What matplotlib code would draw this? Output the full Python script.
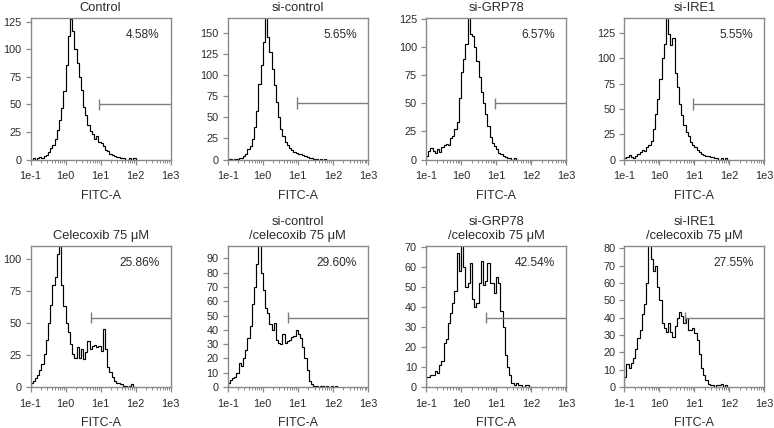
import numpy as np
import matplotlib
matplotlib.use('Agg')
import matplotlib.pyplot as plt
from matplotlib.ticker import LogLocator, FixedLocator, FixedFormatter, NullFormatter

plt.rcParams['font.family'] = ['Liberation Sans', 'DejaVu Sans']

# ---------------- data ----------------
bins_per_decade = 16
log_start = -1

titles = ["Control", "si-control", "si-GRP78", "si-IRE1",
          "Celecoxib 75 \u03bcM", "si-control\n/celecoxib 75 \u03bcM",
          "si-GRP78\n/celecoxib 75 \u03bcM", "si-IRE1\n/celecoxib 75 \u03bcM"]
percents = ["4.58%", "5.65%", "6.57%", "5.55%", "25.86%", "29.60%", "42.54%", "27.55%"]

counts_control = [0, 1, 0, 1, 2, 1, 3, 4, 7, 10, 13, 19, 27, 36, 47, 62, 86, 112, 128, 117,
                  100, 88, 75, 63, 48, 40, 31, 26, 23, 19, 21, 16, 15, 12, 9, 8, 5, 4, 3, 2,
                  2, 1, 1, 0, 0, 1, 0, 1, 0]
counts_sicontrol = [1, 1, 0, 1, 1, 2, 2, 4, 7, 12, 16, 24, 38, 58, 90, 112, 140, 170, 145, 128,
                    108, 88, 68, 50, 36, 28, 21, 17, 14, 11, 9, 8, 7, 6, 5, 4, 3, 2, 2, 1,
                    1, 0, 1, 0, 1, 0]
counts_sigrp78 = [3, 8, 10, 8, 6, 9, 7, 11, 13, 14, 13, 19, 21, 27, 33, 55, 78, 90, 103, 127,
                  112, 110, 100, 88, 74, 60, 50, 41, 30, 20, 15, 12, 9, 6, 5, 3, 2, 1, 1, 0,
                  1, 0]
counts_siire1 = [1, 2, 4, 2, 1, 3, 5, 7, 9, 8, 12, 14, 18, 30, 45, 60, 80, 100, 114, 141,
                 124, 113, 120, 86, 72, 55, 44, 34, 27, 23, 17, 14, 12, 9, 7, 5, 4, 3, 3, 2,
                 2, 1, 1, 0, 1, 0, 1, 0]
counts_celecoxib = [3, 5, 7, 9, 13, 18, 26, 37, 50, 64, 80, 86, 104, 111, 80, 63, 50, 43, 34, 26,
                    23, 31, 23, 30, 22, 27, 36, 30, 32, 33, 31, 32, 28, 45, 30, 16, 12, 8, 5, 3,
                    3, 2, 1, 1, 0, 1, 2, 0]
counts_sicontrol_cel = [3, 5, 6, 7, 10, 17, 15, 20, 26, 34, 43, 58, 70, 86, 99, 80, 68, 55, 52, 44,
                        40, 45, 33, 31, 30, 37, 31, 32, 33, 35, 36, 40, 37, 34, 28, 20, 12, 4, 2, 1,
                        1, 0, 1, 1, 0, 1, 0, 1, 0, 1, 0]
counts_sigrp78_cel = [5, 5, 6, 6, 8, 7, 11, 13, 22, 24, 32, 37, 42, 48, 67, 58, 71, 60, 50, 52,
                      62, 44, 40, 42, 52, 63, 51, 53, 62, 52, 52, 47, 55, 52, 38, 30, 16, 10, 6, 2,
                      1, 2, 1, 1, 0, 1, 1, 0]
counts_siire1_cel = [6, 13, 11, 14, 17, 22, 28, 33, 42, 48, 60, 82, 74, 67, 70, 58, 50, 37, 34, 32,
                     37, 32, 29, 35, 40, 43, 41, 37, 40, 33, 33, 34, 31, 27, 19, 11, 7, 4, 2, 1,
                     1, 0, 1, 1, 2, 0, 1, 0]

all_counts = [counts_control, counts_sicontrol, counts_sigrp78, counts_siire1,
              counts_celecoxib, counts_sicontrol_cel, counts_sigrp78_cel, counts_siire1_cel]

y_max = [128.5, 168, 126.2, 140, 110, 98.4, 70.5, 81.2]
y_tick_step = [25, 25, 25, 25, 25, 10, 10, 10]
y_tick_top = [125, 150, 125, 125, 100, 90, 70, 80]

gate_start = [9.1, 9.2, 9.2, 9.4, 5.3, 5.4, 5.2, 5.5]
gate_level = [50, 67, 50, 55, 54.3, 48.6, 34.7, 40]

x_tick_values = [0.1, 1, 10, 100, 1000]
x_tick_labels = ["1e-1", "1e0", "1e1", "1e2", "1e3"]

# ---------------- layout ----------------
W, H = 774, 428
fig = plt.figure(figsize=(W / 100, H / 100), dpi=100)

lefts_px = [30.5, 227.7, 426.0, 624.3]
width_px = 140.2
rows_px = [(18.0, 159.5), (246.3, 387.0)]

spine_col = '#8a8a8a'
text_col = '#2a2a2a'

for k in range(8):
    r, c = divmod(k, 4)
    top, bot = rows_px[r]
    ax = fig.add_axes([lefts_px[c] / W, 1 - bot / H, width_px / W, (bot - top) / H])
    counts = np.asarray(all_counts[k], dtype=float)
    edges = 10 ** (log_start + np.arange(len(counts) + 1) / bins_per_decade)
    ax.stairs(counts, edges, color='black', lw=0.85, baseline=0)

    ax.set_xscale('log')
    ax.set_xlim(0.1, 1000)
    ax.set_ylim(0, y_max[k])

    ax.xaxis.set_major_locator(FixedLocator(x_tick_values))
    ax.xaxis.set_major_formatter(FixedFormatter(x_tick_labels))
    ax.xaxis.set_minor_locator(LogLocator(base=10, subs=np.arange(2, 10), numticks=20))
    ax.xaxis.set_minor_formatter(NullFormatter())
    ax.set_yticks(np.arange(0, y_tick_top[k] + 1, y_tick_step[k]))

    for s in ax.spines.values():
        s.set_color(spine_col)
        s.set_linewidth(1.0)
    ax.tick_params(axis='both', which='major', length=3.5, width=0.9, color=spine_col,
                   labelsize=7.8, labelcolor=text_col, pad=3)
    ax.tick_params(axis='x', which='minor', length=2, width=0.7, color=spine_col)
    ax.tick_params(axis='x', which='major', pad=5)

    ax.set_xlabel("FITC-A", fontsize=9, color=text_col, labelpad=6)
    ax.set_title(titles[k], fontsize=9.3, color=text_col, pad=5, linespacing=1.3)

    # gate marker
    gs, gl = gate_start[k], gate_level[k]
    d = 0.04 * y_max[k]
    ax.plot([gs, 1000], [gl, gl], color='#7d7d7d', lw=1.0, clip_on=False, solid_capstyle='butt')
    ax.plot([gs, gs], [gl - d, gl + d], color='#7d7d7d', lw=1.0, solid_capstyle='butt')

    ax.text(0.92, 0.88, percents[k], transform=ax.transAxes, ha='right', va='center',
            fontsize=8.6, color=text_col)

fig.savefig("out.png", dpi=100)
